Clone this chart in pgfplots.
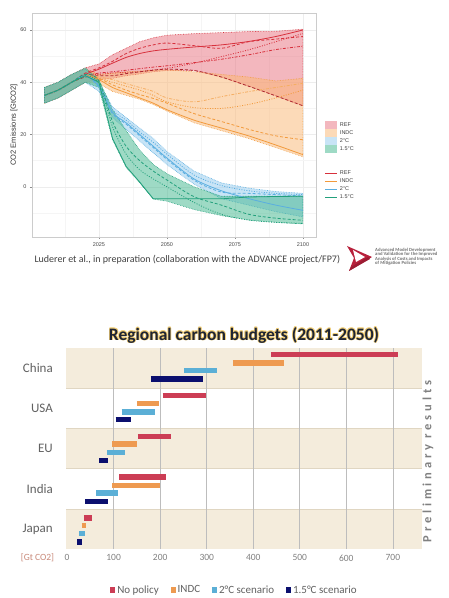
\documentclass[border=0pt]{standalone}
\usepackage{fontspec}
\setmainfont{Carlito}
\newfontfamily\arialf{Liberation Sans}
\usepackage{pgfplots}
\pgfplotsset{compat=1.18}
\usepackage{pgfplotstable}

% scenario colours (emission pathways)
\definecolor{refL}{HTML}{D7303C}
\definecolor{refF}{HTML}{E8707E}
\definecolor{indcL}{HTML}{F29A3C}
\definecolor{indcF}{HTML}{FBB772}
\definecolor{twoL}{HTML}{5AAEE0}
\definecolor{twoF}{HTML}{92CBEF}
\definecolor{oneL}{HTML}{22A07C}
\definecolor{oneF}{HTML}{3FB68C}
% budget bar colours
\definecolor{bNo}{HTML}{CC3D55}
\definecolor{bIndc}{HTML}{EE9A50}
\definecolor{bTwo}{HTML}{5BAFD6}
\definecolor{bOne}{HTML}{0B0F6E}
\definecolor{band}{HTML}{F4ECDC}
\definecolor{bandedge}{HTML}{E0D6C2}
\definecolor{gridc}{HTML}{BDBDBD}
\definecolor{salm}{HTML}{C98A7A}
\definecolor{glowc}{HTML}{F2CF78}
\definecolor{titlec}{HTML}{1E2433}
\definecolor{logored}{HTML}{B8213C}

\pgfplotsset{
  swatch/.style={legend image code/.code={\fill[fill=#1, fill opacity=0.5, draw=none] (0pt,-4pt) rectangle (12pt,4pt);}},
  lineswatch/.style={legend image code/.code={\fill[fill=#1, draw=none] (0pt,-0.45pt) rectangle (12pt,0.45pt);}},
  sqswatch/.style={legend image code/.code={\fill[fill=#1, draw=none] (0pt,-2.6pt) rectangle (5.2pt,2.6pt);}},
  ribbon/.style={fill opacity=0.5, densely dotted, line width=0.6pt},
  ln/.style={line width=0.8pt, smooth, tension=0.5},
  dsh/.style={dash pattern=on 3pt off 2pt},
  dtt/.style={dash pattern=on 1pt off 1.5pt},
  dsd/.style={dash pattern=on 3pt off 1.5pt on 1pt off 1.5pt},
  budget/.style={draw=none, mark=none, forget plot,
    error bars/.cd, x dir=plus, x explicit, error mark=none,
    error bar style={draw=#1, line width=5.4pt}},
}

% outlines of the model ranges [GtCO2]: upper bound forward, lower bound back
\pgfplotstableread{
year val
2005 38.0
2010 40.0
2015 43.0
2020 45.5
2025 47.0
2030 50.5
2035 53.0
2040 55.5
2045 57.0
2050 58.0
2060 58.6
2070 59.0
2080 59.4
2090 59.5
2100 60.3
2100 31.0
2090 34.8
2080 38.5
2070 42.0
2060 44.5
2050 44.5
2045 44.0
2040 43.2
2035 42.5
2030 41.5
2025 41.0
2020 40.0
2015 37.0
2010 34.0
2005 32.0
}\rRef
\pgfplotstableread{
year val
2005 38.0
2010 40.0
2015 43.0
2020 45.0
2025 43.0
2030 43.5
2035 44.0
2040 44.3
2045 44.6
2050 44.8
2060 44.0
2070 43.0
2080 42.0
2090 40.5
2100 41.5
2100 11.5
2090 15.0
2080 18.5
2070 21.5
2060 24.5
2050 29.0
2045 31.5
2040 33.5
2035 35.0
2030 36.5
2025 39.5
2020 40.0
2015 37.0
2010 34.0
2005 32.0
}\rIndc
\pgfplotstableread{
year val
2005 38.0
2010 40.0
2015 43.0
2020 45.0
2025 40.0
2030 30.5
2035 26.5
2040 22.5
2045 18.5
2050 13.5
2060 6.0
2070 1.5
2080 -0.5
2090 -1.8
2100 -2.5
2100 -11.5
2090 -9.5
2080 -7.0
2070 -4.5
2060 1.0
2050 8.5
2045 13.0
2040 17.5
2035 22.0
2030 26.5
2025 36.5
2020 40.0
2015 37.0
2010 34.0
2005 32.0
}\rTwo
\pgfplotstableread{
year val
2005 38.0
2010 40.0
2015 43.0
2020 45.5
2025 41.0
2030 29.5
2035 21.5
2040 14.0
2045 8.5
2050 5.0
2060 0.0
2070 -3.6
2080 -3.6
2090 -3.6
2100 -3.6
2100 -14.2
2090 -13.6
2080 -12.7
2070 -11.0
2060 -8.7
2050 -5.5
2045 -4.7
2040 1.5
2035 7.5
2030 18.0
2025 38.0
2020 40.0
2015 37.0
2010 34.0
2005 32.0
}\rOne

% individual model pathways [GtCO2]
\pgfplotstableread{
year sol dsh dd dot low
2005 35.0 35.0 35.0 35.0 35.0
2010 37.0 37.0 37.0 37.0 37.0
2015 40.0 40.0 40.0 40.0 40.0
2020 43.0 43.5 42.5 42.5 42.0
2025 45.0 45.5 43.5 43.0 42.5
2030 47.3 48.0 44.0 43.5 42.5
2035 49.5 51.0 44.6 43.8 43.3
2040 51.0 53.0 45.2 44.0 44.0
2045 52.0 54.3 45.8 44.7 44.6
2050 52.6 55.0 46.3 45.3 45.0
2060 53.5 54.0 47.5 47.3 44.5
2070 54.3 53.0 48.8 49.8 42.0
2080 55.6 55.5 50.5 52.4 38.5
2090 57.5 56.5 52.5 55.5 34.8
2100 60.0 57.5 53.8 58.7 31.0
}\tRef
\pgfplotstableread{
year sol dsh dot dd
2005 35.0 35.0 35.0 35.0
2010 37.0 37.0 37.0 37.0
2015 40.0 40.0 40.0 40.0
2020 42.5 42.5 42.5 42.5
2025 41.0 41.5 41.5 42.0
2030 38.0 39.0 40.0 41.0
2035 36.0 37.0 38.5 39.5
2040 34.0 35.3 37.0 38.0
2045 32.0 33.8 35.0 36.5
2050 29.5 32.0 32.5 34.0
2060 25.5 28.0 30.3 32.5
2070 22.5 25.0 30.0 34.5
2080 19.5 22.0 31.5 36.4
2090 16.0 19.5 34.0 38.0
2100 12.3 18.0 37.0 39.6
}\tIndc
\pgfplotstableread{
year sol dsh dot
2005 35.0 35.0 35.0
2010 37.0 37.0 37.0
2015 40.0 40.0 40.0
2020 42.5 42.5 42.5
2025 38.5 38.0 39.0
2030 28.5 28.0 29.5
2035 24.5 24.0 25.5
2040 20.0 19.5 21.0
2045 15.5 15.0 17.0
2050 11.0 10.5 12.5
2060 3.0 2.5 4.5
2070 -1.5 -2.0 0.5
2080 -4.5 -2.5 -1.5
2090 -7.0 -3.0 -2.5
2100 -9.0 -3.5 -3.0
}\tTwo
\pgfplotstableread{
year sol dsh dot
2005 35.0 35.0 35.0
2010 37.0 37.0 37.0
2015 40.0 40.0 40.0
2020 42.5 43.0 42.5
2025 40.0 40.5 39.5
2030 18.5 25.0 23.0
2035 7.8 15.5 12.5
2040 1.8 10.0 6.5
2045 -4.6 6.0 3.0
2050 -4.6 2.6 0.0
2060 -4.6 -3.8 -6.0
2070 -4.6 -7.0 -10.5
2080 -3.9 -10.5 -12.7
2090 -3.7 -12.0 -13.6
2100 -3.6 -12.8 -14.0
}\tOne

% regional carbon budgets 2011-2050 [GtCO2]: bar row, start, end
\pgfplotstableread{
y s e
4.334 438 710
3.323 205 298
2.303 152 224
1.291 112 212
0.271 36 54
}\bNoTab
\pgfplotstableread{
y s e
4.127 356 465
3.115 150 197
2.112 97 150
1.084 97 200
0.080 31 41
}\bIndcTab
\pgfplotstableread{
y s e
3.936 252 323
2.908 117 189
1.905 86 124
0.893 63 109
-0.119 26 39
}\bTwoTab
\pgfplotstableread{
y s e
3.729 180 291
2.717 104 138
1.697 69 88
0.686 39 87
-0.326 22 31
}\bOneTab

\begin{document}
\begin{tikzpicture}
\fill[white] (0pt,0pt) rectangle (448pt,598pt);

%% ---------------- emission pathways ----------------
\begin{axis}[
  at={(32pt,361pt)}, anchor=south west, scale only axis,
  width=284pt, height=224pt,
  xmin=2000.4, xmax=2104.8, ymin=-19.2, ymax=66.5,
  xtick={2025,2050,2075,2100}, ytick={0,20,40,60},
  minor xtick={2012.5,2037.5,2062.5,2087.5}, minor ytick={-10,10,30,50},
  xtick pos=left, ytick pos=left,
  xmajorgrids, ymajorgrids, xminorgrids, yminorgrids,
  major grid style={draw=black!7}, minor grid style={draw=black!4},
  axis line style={draw=black!20, line width=0.6pt},
  tick align=outside, major tick length=2pt, minor tick length=0pt,
  tick style={draw=black!45, line width=0.4pt},
  tick label style={font=\arialf\fontsize{5.5}{6}\selectfont, text=black!70},
  /pgf/number format/assume math mode=true, /pgf/number format/1000 sep={},
  ylabel={CO2 Emissions [GtCO2]},
  ylabel style={font=\arialf\fontsize{7.5}{8}\selectfont, text=black!80},
  ylabel shift=-4pt,
  legend style={at={(1.032,0.518)}, anchor=north west, draw=none, fill=none,
    font=\arialf\fontsize{5.5}{6}\selectfont, text=black!75,
    row sep=0pt, column sep=2pt, inner sep=0pt,
    nodes={inner sep=0.7pt, text height=5pt, text depth=1.6pt}},
  legend cell align=left,
]
\addlegendimage{swatch=refF}\addlegendentry{REF}
\addlegendimage{swatch=indcF}\addlegendentry{INDC}
\addlegendimage{swatch=twoF}\addlegendentry{2°C}
\addlegendimage{swatch=oneF}\addlegendentry{1.5°C}
\addlegendimage{empty legend}\addlegendentry{}
\addlegendimage{empty legend}\addlegendentry{}
\addlegendimage{lineswatch=refL}\addlegendentry{REF}
\addlegendimage{lineswatch=indcL}\addlegendentry{INDC}
\addlegendimage{lineswatch=twoL}\addlegendentry{2°C}
\addlegendimage{lineswatch=oneL}\addlegendentry{1.5°C}

% ranges across models
\addplot[ribbon, fill=refF, draw=refL] table[x=year,y=val]{\rRef} -- cycle;
\addplot[ribbon, fill=indcF, draw=indcL] table[x=year,y=val]{\rIndc} -- cycle;
\addplot[ribbon, fill=twoF, draw=twoL] table[x=year,y=val]{\rTwo} -- cycle;
\addplot[ribbon, fill=oneF, draw=oneL] table[x=year,y=val]{\rOne} -- cycle;

% model pathways
\addplot[ln, refL] table[x=year,y=sol]{\tRef};
\addplot[ln, refL, dsh] table[x=year,y=dsh]{\tRef};
\addplot[ln, refL, dsd] table[x=year,y=dd]{\tRef};
\addplot[ln, refL, dtt] table[x=year,y=dot]{\tRef};
\addplot[ln, refL!80!black, dsh] table[x=year,y=low]{\tRef};

\addplot[ln, indcL] table[x=year,y=sol]{\tIndc};
\addplot[ln, indcL, dsh] table[x=year,y=dsh]{\tIndc};
\addplot[ln, indcL, dtt] table[x=year,y=dot]{\tIndc};
\addplot[ln, indcL!80, dsd] table[x=year,y=dd]{\tIndc};

\addplot[ln, twoL] table[x=year,y=sol]{\tTwo};
\addplot[ln, twoL, dsh] table[x=year,y=dsh]{\tTwo};
\addplot[ln, twoL, dtt] table[x=year,y=dot]{\tTwo};

\addplot[line width=0.8pt, oneL] table[x=year,y=sol]{\tOne};
\addplot[ln, oneL, dsh] table[x=year,y=dsh]{\tOne};
\addplot[ln, oneL, dtt] table[x=year,y=dot]{\tOne};
\end{axis}

% source line and project logo
\node[anchor=west, font=\fontsize{10}{11}\selectfont, text=black!75] at (31pt,338pt)
  {Luderer et al., in preparation (collaboration with the ADVANCE project/FP7)};
\begin{scope}[x=1pt,y=1pt]
\fill[logored] (347,352) -- (372,341) -- (349,327) -- (354,340) -- cycle;
\fill[white] (353,348) -- (365,341) -- (356,336) -- cycle;
\fill[logored!85!black] (349,327) -- (370,339) -- (368,341) -- (351,331) -- cycle;
\end{scope}
\node[anchor=north west, align=left, inner sep=0pt, text=black!55,
      font=\fontsize{4.7}{4.3}\selectfont\bfseries] at (375pt,350pt)
  {Advanced Model Development\\and Validation for the Improved\\Analysis of Costs and Impacts\\of Mitigation Policies};

%% ---------------- regional carbon budgets ----------------
\begin{axis}[
  at={(66pt,49pt)}, anchor=south west, scale only axis,
  width=356pt, height=201pt,
  xmin=-2.4, xmax=762.6, ymin=-0.5, ymax=4.5,
  axis line style={draw=none},
  xtick={0,100,...,700},
  ytick={0,1,2,3,4}, yticklabels={Japan,India,EU,USA,China},
  major tick length=0pt,
  x tick label style={font=\fontsize{9.5}{10}\selectfont, text=black!50, anchor=north, inner sep=0pt, yshift=-5.5pt},
  y tick label style={font=\fontsize{13}{14}\selectfont, text=black!62, anchor=east, inner sep=0pt, xshift=-13pt},
  /pgf/number format/assume math mode=true,
  unbounded coords=jump,
  legend columns=4,
  legend style={at={(0.473,-0.204)}, anchor=center, draw=none, fill=none,
    font=\fontsize{11}{12}\selectfont, text=black!62,
    /tikz/every even column/.append style={column sep=10pt},
    nodes={inner sep=1.8pt}},
]
\addlegendimage{sqswatch=bNo}\addlegendentry{No policy}
\addlegendimage{sqswatch=bIndc}\addlegendentry{INDC}
\addlegendimage{sqswatch=bTwo}\addlegendentry{2°C scenario}
\addlegendimage{sqswatch=bOne}\addlegendentry{1.5°C scenario}

% shaded region rows
\addplot[fill=band, draw=none, forget plot] coordinates {(-2.4,3.5) (762.6,3.5) (762.6,4.5) (-2.4,4.5)} -- cycle;
\addplot[fill=band, draw=none, forget plot] coordinates {(-2.4,1.5) (762.6,1.5) (762.6,2.5) (-2.4,2.5)} -- cycle;
\addplot[fill=band, draw=none, forget plot] coordinates {(-2.4,-0.5) (762.6,-0.5) (762.6,0.5) (-2.4,0.5)} -- cycle;
\addplot[draw=bandedge, line width=0.6pt, forget plot] coordinates {
  (-2.4,3.5) (762.6,3.5) (0,nan) (-2.4,2.5) (762.6,2.5) (0,nan)
  (-2.4,1.5) (762.6,1.5) (0,nan) (-2.4,0.5) (762.6,0.5)};
% vertical grid lines
\addplot[draw=gridc, line width=0.7pt, forget plot] coordinates {
  (100,-0.5) (100,4.5) (100,nan) (200,-0.5) (200,4.5) (200,nan)
  (300,-0.5) (300,4.5) (300,nan) (400,-0.5) (400,4.5) (400,nan)
  (500,-0.5) (500,4.5) (500,nan) (600,-0.5) (600,4.5) (600,nan)
  (700,-0.5) (700,4.5)};

% budget ranges as floating bars
\addplot[budget=bNo] table[x=s, y=y, x error expr=\thisrow{e}-\thisrow{s}]{\bNoTab};
\addplot[budget=bIndc] table[x=s, y=y, x error expr=\thisrow{e}-\thisrow{s}]{\bIndcTab};
\addplot[budget=bTwo] table[x=s, y=y, x error expr=\thisrow{e}-\thisrow{s}]{\bTwoTab};
\addplot[budget=bOne] table[x=s, y=y, x error expr=\thisrow{e}-\thisrow{s}]{\bOneTab};
\end{axis}

% title with soft glow
\foreach \a in {0,45,...,315}
  \node[shift={(\a:0.8pt)}, font=\fontsize{17.5}{20}\selectfont\bfseries, text=glowc] at (244pt,263pt)
    {Regional carbon budgets (2011-2050)};
\node[font=\fontsize{17.5}{20}\selectfont\bfseries, text=titlec] at (244pt,263pt)
  {Regional carbon budgets (2011-2050)};

\node[font=\fontsize{9.5}{10}\selectfont, text=salm] at (37.5pt,40pt) {[Gt CO2]};
\node[rotate=90, text=black!50] at (428pt,136.5pt)
  {\fontsize{12.5}{14}\selectfont\bfseries\addfontfeature{LetterSpace=30}Preliminary results};

\pgfresetboundingbox
\path[use as bounding box] (0pt,0pt) rectangle (448pt,598pt);
\end{tikzpicture}
\end{document}
